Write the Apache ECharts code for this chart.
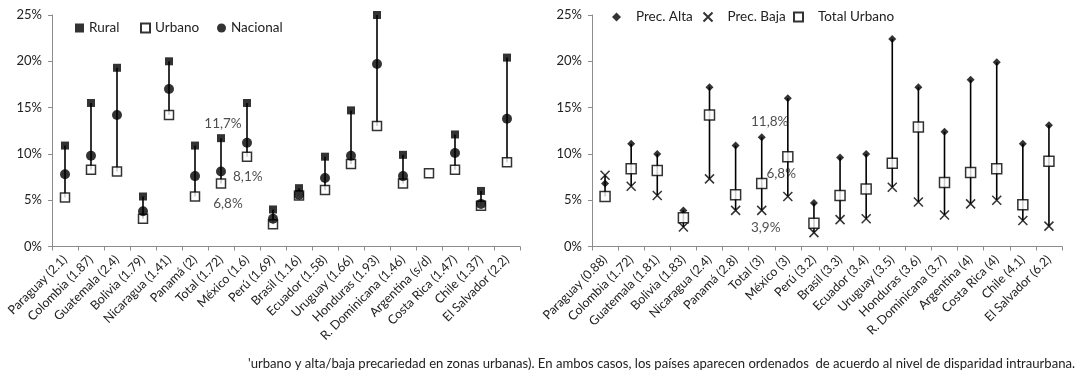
<!DOCTYPE html>
<html><head><meta charset="utf-8">
<script src="https://cdn.jsdelivr.net/npm/echarts@6/dist/echarts.min.js"></script>
<style>html,body{margin:0;padding:0;background:#fff}#c{width:1080px;height:388px}</style>
</head><body><div id="c"></div>
<script>
const catsL = ['Paraguay (2.1)','Colombia (1.87)','Guatemala (2.4)','Bolivia (1.79)','Nicaragua (1.41)','Panamá (2)','Total (1.72)','México (1.6)','Perú (1.69)','Brasil (1.16)','Ecuador (1.58)','Uruguay (1.66)','Honduras (1.93)','R. Dominicana (1.46)','Argentina (s/d)','Costa Rica (1.47)','Chile (1.37)','El Salvador (2.2)'];
const rural    = [10.9,15.5,19.3,5.4,20.0,10.9,11.7,15.5,4.0,6.3,9.7,14.7,25.0,9.9,null,12.1,6.0,20.4];
const urbano   = [5.3,8.3,8.1,3.0,14.2,5.4,6.8,9.7,2.4,5.5,6.1,8.9,13.0,6.8,7.9,8.3,4.4,9.1];
const nacional = [7.8,9.8,14.2,3.8,17.0,7.6,8.1,11.2,3.0,5.6,7.4,9.8,19.7,7.6,null,10.1,4.6,13.8];

const catsR = ['Paraguay (0.88)','Colombia (1.72)','Guatemala (1.81)','Bolivia (1.83)','Nicaragua (2.4)','Panamá (2.8)','Total (3)','México (3)','Perú (3.2)','Brasil (3.3)','Ecuador (3.4)','Uruguay (3.5)','Honduras (3.6)','R. Dominicana (3.7)','Argentina (4)','Costa Rica (4)','Chile (4.1)','El Salvador (6.2)'];
const alta  = [6.8,11.1,10.0,3.9,17.2,10.9,11.8,16.0,4.7,9.6,10.0,22.4,17.2,12.4,18.0,19.9,11.1,13.1];
const baja  = [7.7,6.5,5.5,2.1,7.3,3.9,3.9,5.4,1.5,2.9,3.0,6.4,4.8,3.4,4.6,5.0,2.8,2.2];
const totalU = [5.4,8.4,8.2,3.1,14.2,5.6,6.8,9.7,2.5,5.5,6.2,9.0,12.9,6.9,8.0,8.4,4.5,9.2];

const FONT = 'Lato, "Open Sans", sans-serif';
const footText = "'urbano y alta/baja precariedad en zonas urbanas). En ambos casos, los países aparecen ordenados  de acuerdo al nivel de disparidad intraurbana.";

function rangeData(arrs){
  const n = arrs[0].length, out = [];
  for (let i=0;i<n;i++){
    const v = arrs.map(a=>a[i]).filter(x=>x!=null);
    if (v.length>1) out.push([i, Math.min(...v), Math.max(...v)]);
  }
  return out;
}
function renderRange(params, api){
  const a = api.coord([api.value(0), api.value(1)]);
  const b = api.coord([api.value(0), api.value(2)]);
  return {type:'line', shape:{x1:a[0],y1:a[1],x2:b[0],y2:b[1]}, style:{stroke:'#000', lineWidth:1.6}};
}
function lab(v, text, pos, dist, off){
  return {value:v, label:{show:true, formatter:text, position:pos, distance:dist, offset:off, color:'#222', fontSize:13.5, fontFamily:FONT}};
}
const axisCommon = (cats)=>({
  type:'category', data:cats, boundaryGap:true,
  axisLine:{lineStyle:{color:'#8c8c8c', width:1}},
  axisTick:{show:true, length:4, lineStyle:{color:'#8c8c8c'}},
  axisLabel:{rotate:45, fontSize:12.5, color:'#222', fontFamily:FONT, margin:11, interval:0}
});
const yCommon = {
  type:'value', min:0, max:25, interval:5,
  axisLine:{show:true, lineStyle:{color:'#8c8c8c'}},
  axisTick:{show:true, length:4, lineStyle:{color:'#8c8c8c'}},
  splitLine:{show:false},
  axisLabel:{formatter:v=>v+'%', fontSize:13, color:'#222', fontFamily:FONT, margin:10}
};

const ruralData = rural.map((v,i)=> i===6 ? lab(v,'11,7%','top',4,[2,0]) : v);
const nacData = nacional.map((v,i)=> i===6 ? lab(v,'8,1%','right',7,[0,5]) : v);
const urbData = urbano.map((v,i)=> i===6 ? lab(v,'6,8%','bottom',8,[7,0]) : v);
const altaData = alta.map((v,i)=> i===6 ? lab(v,'11,8%','top',5,[8,0]) : v);
const totData = totalU.map((v,i)=> i===6 ? lab(v,'6,8%','right',1,[-2,-10]) : v);
const bajaData = baja.map((v,i)=> i===6 ? lab(v,'3,9%','bottom',3,[4,0]) : v);

const XPATH = 'path://M0,0L10,10M10,0L0,10';

function leg(name, left, top, pad){
  return {left:left, top:top, padding:0, itemWidth:9, itemHeight:9,
    textStyle:{fontSize:13.5, color:'#222', fontFamily:FONT, padding:[0,0,0,pad]},
    data:[{name:name}], selectedMode:false};
}

const option = {
  animation:false,
  textStyle:{fontFamily:FONT},
  grid:[
    {left:52, right:560, top:15, bottom:141.5},
    {left:592, right:18, top:15, bottom:141.5}
  ],
  xAxis:[ Object.assign({gridIndex:0}, axisCommon(catsL)), Object.assign({gridIndex:1}, axisCommon(catsR)) ],
  yAxis:[ Object.assign({gridIndex:0}, yCommon), Object.assign({gridIndex:1}, yCommon) ],
  legend:[
    leg('Rural', 75, 21, 0), leg('Urbano', 140, 21, 0), leg('Nacional', 217, 21, 0),
    leg('Prec. Alta', 612, 10, 10), leg('Prec. Baja', 701, 10, 10), leg('Total Urbano', 793, 10, 10)
  ],
  graphic:[{type:'text', left:248, top:357, style:{text:footText, fontSize:13.1, fill:'#222', fontFamily:FONT}}],
  series:[
    {type:'custom', xAxisIndex:0, yAxisIndex:0, data:rangeData([rural,urbano,nacional]), renderItem:renderRange, encode:{x:0,y:[1,2]}, z:1, silent:true},
    {name:'Rural', type:'scatter', xAxisIndex:0, yAxisIndex:0, data:ruralData, symbol:'rect', symbolSize:8, itemStyle:{color:'#000'}, z:3},
    {name:'Urbano', type:'scatter', xAxisIndex:0, yAxisIndex:0, data:urbData, symbol:'rect', symbolSize:9, itemStyle:{color:'#fff', borderColor:'#000', borderWidth:1.5}, z:3},
    {name:'Nacional', type:'scatter', xAxisIndex:0, yAxisIndex:0, data:nacData, symbol:'circle', symbolSize:10, itemStyle:{color:'#000'}, z:4},
    {type:'custom', xAxisIndex:1, yAxisIndex:1, data:rangeData([alta,baja,totalU]), renderItem:renderRange, encode:{x:0,y:[1,2]}, z:1, silent:true},
    {name:'Prec. Alta', type:'scatter', xAxisIndex:1, yAxisIndex:1, data:altaData, symbol:'diamond', symbolSize:8, itemStyle:{color:'#000'}, z:3},
    {name:'Prec. Baja', type:'scatter', xAxisIndex:1, yAxisIndex:1, data:bajaData, symbol:XPATH, symbolSize:9, itemStyle:{color:'none', borderColor:'#000', borderWidth:1.5}, z:3},
    {name:'Total Urbano', type:'scatter', xAxisIndex:1, yAxisIndex:1, data:totData, symbol:'rect', symbolSize:10, itemStyle:{color:'#fff', borderColor:'#000', borderWidth:1.5}, z:4}
  ]
};
const chart = echarts.init(document.getElementById('c'), null, {renderer:'canvas'});
chart.setOption(option);
</script></body></html>
